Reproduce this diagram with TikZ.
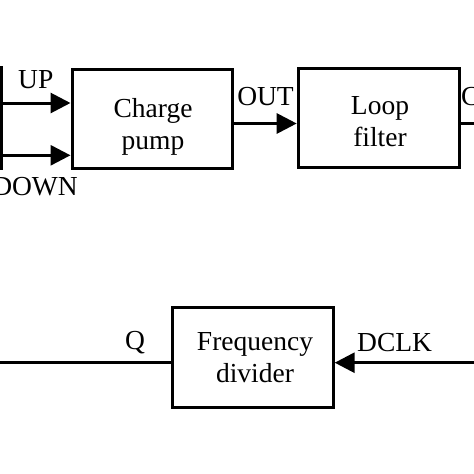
\documentclass[tikz,border=0pt]{standalone}
\usepackage{fontspec}
\setmainfont{Liberation Serif}
\usetikzlibrary{arrows.meta}
\begin{document}
\begin{tikzpicture}[x=1pt,y=-1pt,
  blk/.style={draw,line width=3pt,minimum width=160pt,minimum height=99pt,inner sep=0pt},
  txt/.style={font=\fontsize{27.5}{32}\selectfont,inner sep=0pt},
  wire/.style={line width=3pt},
  arr/.style={wire,-{Triangle[length=20pt,width=20pt]}}]
\useasboundingbox (0,0) rectangle (474,474);
\clip (0,0) rectangle (474,474);
% blocks
\node[blk,minimum width=200pt,minimum height=101pt] (pd) at (-98.5,117.5) {};
\node[blk] (cp) at (152,118.7) {};
\node[blk,minimum width=161pt] (lf) at (378.7,118.3) {};
\node[blk,minimum width=161pt,minimum height=100pt] (fd) at (252.7,357.3) {};
% block texts
\node[txt,align=center,anchor=north] (cpt) at (153,98.5) {Charge\\pump};
\node[txt,align=center,anchor=north] (lft) at (380,96) {Loop\\filter};
\node[txt,align=center,anchor=north] (fdt) at (255,332.5) {Frequency\\divider};
% helper coordinates
\coordinate (yup) at (0,103);
\coordinate (ydn) at (0,155.3);
\coordinate (yout) at (0,123.5);
\coordinate (yq) at (0,362.7);
\coordinate (rend) at (474,123.5);
\coordinate (qend) at (0,362.7);
\coordinate (dend) at (474,362.7);
% connectors
\draw[arr] (pd.east |- yup) -- (cp.west |- yup);
\draw[arr] (pd.east |- ydn) -- (cp.west |- ydn);
\draw[arr] (cp.east |- yout) -- (lf.west |- yout);
\draw[wire] (lf.east |- yout) -- (rend);
\draw[wire] (fd.west |- yq) -- (qend);
\draw[arr] (dend) -- (fd.east |- yq);
% labels
\node[txt,anchor=base west] (lup) at (18,88) {UP};
\node[txt,anchor=base east] (ldn) at (78,195) {DOWN};
\node[txt,anchor=base east] (lout) at (294,105) {OUT};
\node[txt,anchor=base west] (lc) at (461,105) {C};
\node[txt,anchor=base west] (lq) at (125,349) {Q};
\node[txt,anchor=base west] (ldclk) at (357,351) {DCLK};
\end{tikzpicture}
\end{document}
